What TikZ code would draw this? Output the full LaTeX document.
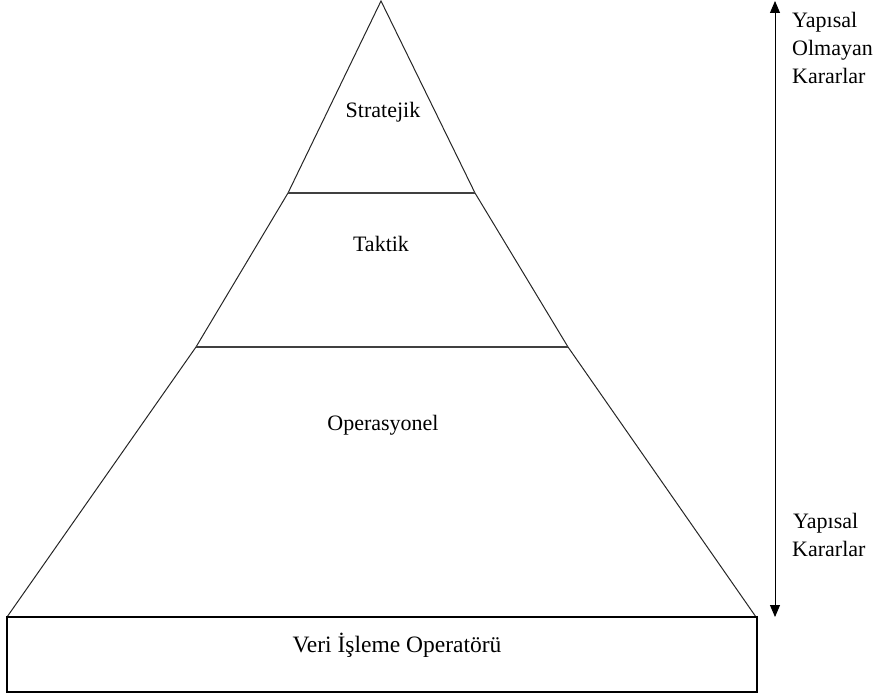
\documentclass[tikz,border=0pt]{standalone}
\usepackage{fontspec}
\setmainfont{Liberation Serif}
\usetikzlibrary{arrows.meta}
\begin{document}
\begin{tikzpicture}[x=1pt,y=-1pt,
  edge/.style={draw=black!85,line width=1pt},
  tier/.style={draw=black!75,line width=1.5pt},
  lbl/.style={anchor=base,inner sep=0pt,font=\fontsize{22}{27}\selectfont},
  side/.style={anchor=base west,inner sep=0pt,font=\fontsize{22}{27}\selectfont},
  scale arrow/.style={line width=0.9pt,{Triangle[width=10pt,length=12pt]}-{Triangle[width=10pt,length=12pt]}}]
\useasboundingbox (0,0) rectangle (874,700);
% pyramid corner points
\coordinate (apex) at (381,1);
\coordinate (t1l) at (288,193);
\coordinate (t1r) at (475,193);
\coordinate (t2l) at (196,347);
\coordinate (t2r) at (568,347);
\coordinate (bl) at (7,617);
\coordinate (br) at (756,617);
% outline of the three tiers
\draw[edge] (bl) -- (t2l) -- (t1l) -- (apex) -- (t1r) -- (t2r) -- (br);
\draw[tier] (t1l) -- (t1r);
\draw[tier] (t2l) -- (t2r);
% base box
\node[draw,line width=1.3pt,minimum width=750pt,minimum height=75pt,inner sep=0pt] (base) at (382,654.5) {};
% tier labels
\node[lbl] (strat) at (383,118) {Stratejik};
\node[lbl] (takt) at (381,252) {Taktik};
\node[lbl] (oper) at (383,430) {Operasyonel};
\node[lbl,font=\fontsize{23.5}{27}\selectfont] (veri) at (397,652) {Veri İşleme Operatörü};
% decision scale
\coordinate (atop) at (775,1);
\coordinate (abot) at (775,617);
\draw[scale arrow] (abot) -- (atop);
\node[side] (unstr1) at (792,28) {Yapısal};
\node[side] (unstr2) at (792,56) {Olmayan};
\node[side] (unstr3) at (792,84) {Kararlar};
\node[side] (str1) at (793,528) {Yapısal};
\node[side] (str2) at (792,556) {Kararlar};
\end{tikzpicture}
\end{document}
